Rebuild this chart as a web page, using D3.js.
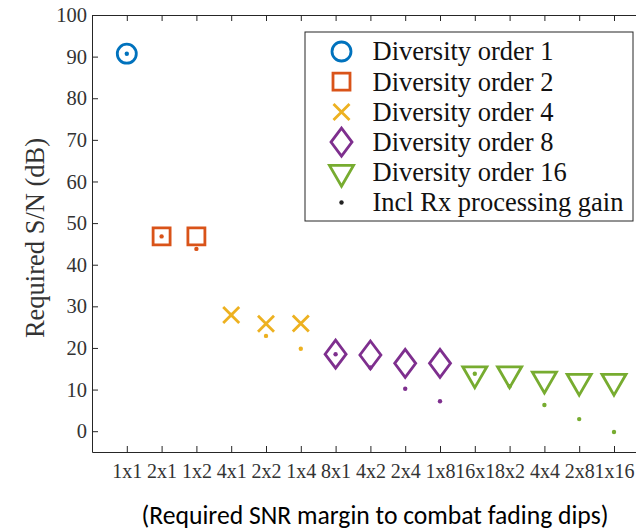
<!DOCTYPE html>
<html>
<head>
<meta charset="utf-8">
<script src="https://cdn.jsdelivr.net/npm/d3@7"></script>
<style>
  html, body { margin: 0; padding: 0; background: #fff; }
  svg { display: block; }
</style>
</head>
<body>
<svg id="chart" width="636" height="531"></svg>
<script>
// ---- Data ----
const categories = ["1x1","2x1","1x2","4x1","2x2","1x4","8x1","4x2","2x4","1x8","16x1","8x2","4x4","2x8","1x16"];
const diversityOrder = [1,2,2,4,4,4,8,8,8,8,16,16,16,16,16];
const requiredSN = [90.7,46.8,46.8,27.9,25.8,25.9,18.5,18.3,16.3,16.3,13.8,13.8,12.5,12.0,12.0];
const inclRxGain = [90.7,46.8,43.8,27.9,22.9,19.8,18.5,15.3,10.2,7.2,13.8,10.8,6.3,2.9,-0.2];
const yTicks = [0,10,20,30,40,50,60,70,80,90,100];
const legendOrders = [1,2,4,8,16];
const legendLabels = ["Diversity order 1","Diversity order 2","Diversity order 4","Diversity order 8","Diversity order 16","Incl Rx processing gain"];
const yLabel = "Required S/N (dB)";
const xLabel = "(Required SNR margin to combat fading dips)";

const colors = {1:"#0072BD", 2:"#D95319", 4:"#EDB120", 8:"#7E2F8E", 16:"#77AC30"};
const axisColor = "#262626";
const serif = "'Liberation Serif','Times New Roman',serif";

const svg = d3.select("#chart");

const x = d3.scaleLinear().domain([0, 16]).range([92, 92 + 16 * 34.8]);
const y = d3.scaleLinear().domain([-5, 100]).range([452, 15]);

// ---- Axes ----
const gy = svg.append("g").attr("transform", `translate(${x(0)},0)`)
  .call(d3.axisLeft(y).tickValues(yTicks).tickSizeInner(-6).tickSizeOuter(0).tickPadding(5));
const gx = svg.append("g").attr("transform", `translate(0,${y(-5)})`)
  .call(d3.axisBottom(x).tickValues(d3.range(1, 16)).tickFormat((d) => categories[d - 1])
    .tickSizeInner(-6).tickSizeOuter(0).tickPadding(12));
const gt = svg.append("g").attr("transform", `translate(0,${y(100)})`)
  .call(d3.axisTop(x).tickValues(d3.range(1, 16)).tickFormat("").tickSizeInner(-6).tickSizeOuter(0));

[gy, gx, gt].forEach(g => {
  g.selectAll("path.domain").attr("stroke", axisColor).attr("stroke-width", 1);
  g.selectAll(".tick line").attr("stroke", axisColor).attr("stroke-width", 1);
  g.selectAll(".tick text").attr("fill", "#333").attr("font-family", serif).attr("font-size", 20.5);
});
gx.selectAll(".tick text").attr("font-size", 20);

// ---- Marker shapes ----
function markerPath(order) {
  const p = d3.path();
  if (order === 1) {
    p.arc(0, 0, 9.5, 0, 2 * Math.PI);
  } else if (order === 2) {
    p.rect(-8.5, -8.5, 17, 17);
  } else if (order === 4) {
    p.moveTo(-8, -8); p.lineTo(8, 8); p.moveTo(8, -8); p.lineTo(-8, 8);
  } else if (order === 8) {
    p.moveTo(0, -14); p.lineTo(10.5, 0); p.lineTo(0, 14); p.lineTo(-10.5, 0); p.closePath();
  } else {
    const R = 13.9;
    p.moveTo(0, R);
    p.lineTo(R * Math.cos(Math.PI / 6), -R / 2);
    p.lineTo(-R * Math.cos(Math.PI / 6), -R / 2);
    p.closePath();
  }
  return p.toString();
}

// ---- Marks ----
const idx = d3.range(categories.length);
svg.append("g").selectAll("path.mk").data(idx).join("path")
  .attr("class", "mk")
  .attr("transform", i => `translate(${x(i + 1)},${y(requiredSN[i])})`)
  .attr("d", i => markerPath(diversityOrder[i]))
  .attr("fill", "none")
  .attr("stroke", i => colors[diversityOrder[i]])
  .attr("stroke-width", 2.8)
  .attr("stroke-linejoin", "miter");

svg.append("g").selectAll("circle.dot").data(idx).join("circle")
  .attr("class", "dot")
  .attr("cx", i => x(i + 1))
  .attr("cy", i => y(inclRxGain[i]))
  .attr("r", 2.2)
  .attr("fill", i => colors[diversityOrder[i]]);

// ---- Legend ----
const lg = svg.append("g");
lg.append("rect").attr("x", 305).attr("y", 32).attr("width", 328).attr("height", 189)
  .attr("fill", "#fff").attr("stroke", axisColor).attr("stroke-width", 1);
const rowY = r => 51.5 + r * 30.2;
legendOrders.forEach((o, r) => {
  lg.append("path").attr("transform", `translate(341.5,${rowY(r)})`)
    .attr("d", markerPath(o)).attr("fill", "none").attr("stroke", colors[o]).attr("stroke-width", 2.8);
});
lg.append("circle").attr("cx", 341.5).attr("cy", rowY(5)).attr("r", 2.2).attr("fill", "#222");
legendLabels.forEach((t, r) => {
  lg.append("text").attr("x", 372.5).attr("y", rowY(r) + 8.8)
    .attr("font-family", serif).attr("font-size", 26.5).attr("fill", "#111").text(t);
});

// ---- Axis labels ----
svg.append("text")
  .attr("transform", `translate(44,238) rotate(-90)`)
  .attr("text-anchor", "middle")
  .attr("font-family", serif).attr("font-size", 26.5).attr("fill", "#333")
  .text(yLabel);

svg.append("text")
  .attr("x", 375).attr("y", 524)
  .attr("text-anchor", "middle")
  .attr("font-family", "Carlito, Lato, 'Open Sans', sans-serif").attr("font-size", 26)
  .attr("textLength", 467).attr("lengthAdjust", "spacingAndGlyphs")
  .attr("fill", "#000")
  .text(xLabel);
</script>
</body>
</html>
